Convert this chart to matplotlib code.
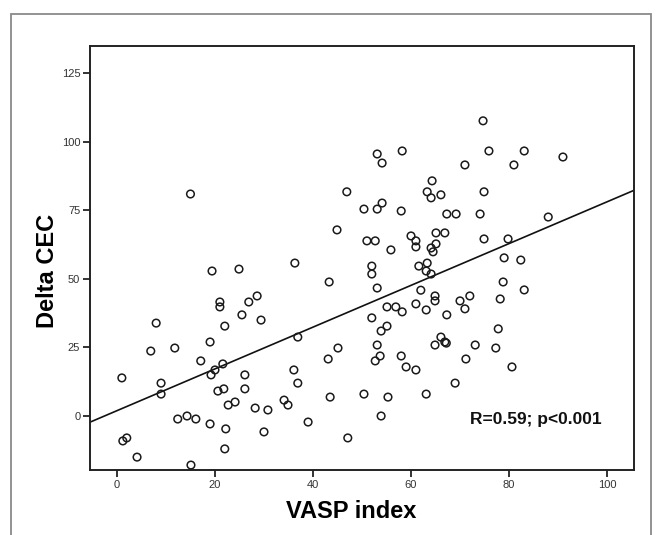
import matplotlib
matplotlib.use("Agg")
import matplotlib.pyplot as plt
from matplotlib.patches import Rectangle
import numpy as np

plt.rcParams['font.family'] = ['Liberation Sans', 'DejaVu Sans']

# VASP index / Delta CEC pairs
vasp = [15.0,
        53.1, 54.1, 58.2, 64.3, 63.3, 64.1, 66.1, 46.9, 50.4, 53.1, 54.1, 58.0, 67.3,
        44.9, 51.0, 52.7, 60.0, 61.0, 61.0, 65.1, 66.9, 65.1, 64.1, 55.9,
        74.7, 75.9, 83.1, 91.0, 71.0, 81.0, 74.9, 69.2, 74.1, 88.0, 74.9, 79.8,
        19.4, 24.9, 21.0, 21.0, 26.9, 28.6, 25.5, 29.4, 8.0, 22.0, 19.0, 6.9, 11.8,
        17.1, 20.0, 19.2, 21.6, 26.1, 26.1, 20.6, 21.8, 1.0, 9.0, 9.0, 22.7, 24.1,
        28.2, 30.8, 12.4, 14.3, 16.1, 19.0, 22.2, 30.0, 1.2, 2.0, 4.1, 22.0, 15.1,
        36.3, 43.3, 52.0, 52.0, 64.5, 61.6, 63.3, 63.1, 64.1, 53.1, 62.0, 64.9, 64.9,
        55.1, 56.9, 58.2, 61.0, 63.1, 67.3, 52.0, 55.1, 53.9, 36.9, 66.1, 66.9, 67.2,
        64.9, 53.1, 53.7, 52.7, 58.0, 59.0, 61.0, 45.1, 43.1, 36.1, 36.9, 43.5, 50.4,
        55.3, 63.1, 34.1, 34.9, 39.0, 53.9, 47.1,
        79.0, 82.4, 78.8, 83.1, 78.2, 72.0, 70.0, 71.0, 77.8, 73.1, 77.3, 71.2, 80.6, 69.0]
delta_cec = [81.0,
             95.6, 92.3, 96.7, 85.8, 81.8, 79.6, 80.7, 81.8, 75.5, 75.5, 77.7, 74.8, 73.7,
             67.9, 63.9, 63.9, 65.7, 63.9, 61.7, 66.8, 66.8, 62.8, 61.3, 60.6,
             107.7, 96.7, 96.7, 94.5, 91.6, 91.6, 81.8, 73.7, 73.7, 72.6, 64.6, 64.6,
             52.9, 53.6, 41.6, 39.8, 41.6, 43.8, 36.9, 35.0, 33.9, 32.8, 27.0, 23.7, 24.8,
             20.1, 16.8, 15.0, 19.0, 15.0, 9.9, 9.1, 9.9, 13.9, 12.0, 8.0, 4.0, 5.1,
             2.9, 2.2, -1.1, 0.0, -1.1, -2.9, -4.7, -5.8, -9.1, -8.0, -15.0, -12.0, -17.9,
             55.8, 48.9, 54.7, 51.8, 59.9, 54.7, 55.8, 52.9, 51.8, 46.7, 45.9, 43.8, 42.0,
             39.8, 39.8, 38.0, 40.9, 38.7, 36.9, 35.8, 32.8, 31.0, 28.8, 28.8, 27.0, 26.6,
             25.9, 25.9, 21.9, 20.1, 21.9, 17.9, 16.8, 24.8, 20.8, 16.8, 12.0, 6.9, 8.0,
             6.9, 8.0, 5.8, 4.0, -2.2, 0.0, -8.0,
             57.7, 56.9, 48.9, 46.0, 42.7, 43.8, 42.0, 39.1, 31.8, 25.9, 24.8, 20.8, 17.9, 12.0]

x_ticks = [0, 20, 40, 60, 80, 100]
y_ticks = [0, 25, 50, 75, 100, 125]
stat_text = "R=0.59; p<0.001"

x = np.array(vasp)
y = np.array(delta_cec)

fig = plt.figure(figsize=(6.56, 5.35), dpi=100)
# outer grey frame
fig.patches.append(Rectangle((11 / 656, -0.05), 640 / 656, 1.05 - 14 / 535,
                             transform=fig.transFigure, fill=False,
                             edgecolor='#8a8a8a', linewidth=1.3))

ax = fig.add_axes([90 / 656, 1 - 470 / 535, 544 / 656, 424 / 535])
ax.scatter(x, y, s=30, facecolors='none', edgecolors='#1a1a1a', linewidths=1.1, zorder=3)

xlim = (-5.5, 105.5)
slope, intercept = np.polyfit(x, y, 1)
xs = np.array(xlim)
ax.plot(xs, intercept + slope * xs, color='#111111', linewidth=1.2, zorder=2)

ax.set_xlim(*xlim)
ax.set_ylim(-19.7, 135)
ax.set_xticks(x_ticks)
ax.set_yticks(y_ticks)
ax.tick_params(direction='out', length=5, width=1.2, labelsize=8,
               colors='#111111', labelcolor='#333333', pad=2)
for s in ax.spines.values():
    s.set_linewidth(1.4)
    s.set_color('#222222')

ax.set_xlabel('VASP index', fontsize=17, fontweight='bold')
ax.xaxis.label.set_va('center')
ax.xaxis.set_label_coords((351 - 90) / 544, (470 - 512) / 424)
ax.set_ylabel('Delta CEC', fontsize=17, fontweight='bold')
ax.yaxis.label.set_va('center')
ax.yaxis.set_label_coords((47 - 90) / 544, (470 - 271) / 424)

ax.text(85.5, -1.2, stat_text, fontsize=12.5, fontweight='bold',
        ha='center', va='center', color='#111111')

fig.savefig('out.png', dpi=100)
